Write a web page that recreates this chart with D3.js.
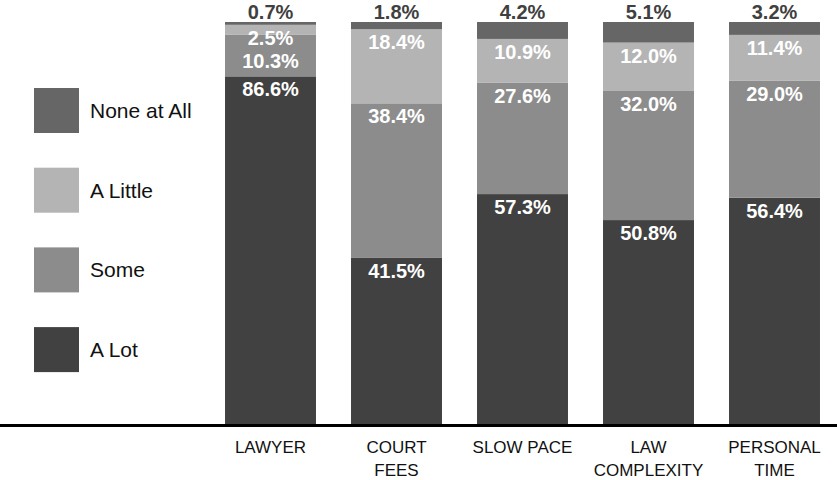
<!DOCTYPE html>
<html>
<head>
<meta charset="utf-8">
<script src="https://cdn.jsdelivr.net/npm/d3@7"></script>
<style>
  body { margin: 0; background: #fff; }
  svg { display: block; font-family: "Liberation Sans", Arial, Helvetica, sans-serif; }
</style>
</head>
<body>
<svg class="chart" width="837" height="480"></svg>
<script>
const categories = ["LAWYER", "COURT FEES", "SLOW PACE", "LAW COMPLEXITY", "PERSONAL TIME"];
const categoryLines = [["LAWYER"], ["COURT", "FEES"], ["SLOW PACE"], ["LAW", "COMPLEXITY"], ["PERSONAL", "TIME"]];
const seriesNames = ["A Lot", "Some", "A Little", "None at All"];
const aLot = [86.6, 41.5, 57.3, 50.8, 56.4];
const some = [10.3, 38.4, 27.6, 32.0, 29.0];
const aLittle = [2.5, 18.4, 10.9, 12.0, 11.4];
const noneAtAll = [0.7, 1.8, 4.2, 5.1, 3.2];
const colors = ["#414141", "#8c8c8c", "#b4b4b4", "#666666"];

const seriesValues = [aLot, some, aLittle, noneAtAll];
const rows = categories.map((c, i) => {
  const row = { category: c };
  seriesNames.forEach((s, j) => (row[s] = seriesValues[j][i]));
  return row;
});

const svg = d3.select(".chart");
const width = +svg.attr("width");
const baseY = 425;
const topY = 22;

const x = d3.scaleBand().domain(categories).range([207.5, 837.5]).paddingInner(0.278).paddingOuter(0.139);
const y = d3.scaleLinear().domain([0, 1]).range([baseY, topY]);
const color = d3.scaleOrdinal().domain(seriesNames).range(colors);

const stacked = d3.stack().keys(seriesNames).offset(d3.stackOffsetExpand)(rows);

// bars
svg.append("g")
  .selectAll("g")
  .data(stacked)
  .join("g")
  .attr("fill", (d) => color(d.key))
  .selectAll("rect")
  .data((d) => d)
  .join("rect")
  .attr("x", (d) => x(d.data.category))
  .attr("y", (d) => y(d[1]))
  .attr("width", x.bandwidth())
  .attr("height", (d) => y(d[0]) - y(d[1]));

// value labels, placed near the top of each segment, pushed down when they collide
const labels = [];
categories.forEach((c, i) => {
  let prev = 19;
  labels.push({ c, y: prev, text: noneAtAll[i].toFixed(1) + "%", fill: "#404040" });
  for (let j = seriesNames.length - 2; j >= 0; j--) {
    const seg = stacked[j][i];
    const ly = Math.max(y(seg[1]) + 20, prev + 23);
    labels.push({ c, y: ly, text: seriesValues[j][i].toFixed(1) + "%", fill: "#fff" });
    prev = ly;
  }
});

svg.append("g")
  .selectAll("text")
  .data(labels)
  .join("text")
  .attr("x", (d) => x(d.c) + x.bandwidth() / 2)
  .attr("y", (d) => d.y)
  .attr("text-anchor", "middle")
  .attr("font-size", 20)
  .attr("font-weight", "bold")
  .attr("fill", (d) => d.fill)
  .text((d) => d.text);

// baseline
svg.append("line")
  .attr("x1", 0)
  .attr("x2", width)
  .attr("y1", baseY + 0.5)
  .attr("y2", baseY + 0.5)
  .attr("stroke", "#000")
  .attr("stroke-width", 3);

// category labels
const cat = svg.append("g")
  .selectAll("text")
  .data(categories)
  .join("text")
  .attr("x", (d) => x(d) + x.bandwidth() / 2)
  .attr("y", 453)
  .attr("text-anchor", "middle")
  .attr("font-size", 17)
  .attr("fill", "#111");
cat.selectAll("tspan")
  .data((d, i) => categoryLines[i])
  .join("tspan")
  .attr("x", function () { return this.parentNode.getAttribute("x"); })
  .attr("dy", (d, k) => (k === 0 ? 0 : 22.5))
  .text((d) => d);

// legend
const legendOrder = ["None at All", "A Little", "Some", "A Lot"];
const legend = svg.append("g")
  .selectAll("g")
  .data(legendOrder)
  .join("g")
  .attr("transform", (d, i) => `translate(34,${88 + i * 79.7})`);
legend.append("rect")
  .attr("width", 45)
  .attr("height", 45)
  .attr("fill", (d) => color(d));
legend.append("text")
  .attr("x", 56)
  .attr("y", 30)
  .attr("font-size", 21)
  .attr("fill", "#111")
  .text((d) => d);
</script>
</body>
</html>
